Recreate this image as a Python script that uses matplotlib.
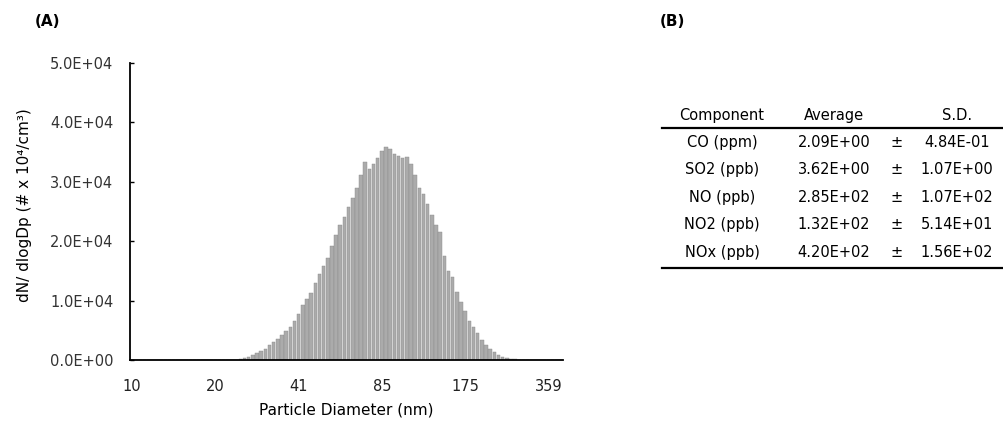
import matplotlib
matplotlib.use('Agg')
import matplotlib.pyplot as plt
from matplotlib.lines import Line2D
from matplotlib.ticker import FixedLocator, FuncFormatter

plt.rcParams['font.family'] = ['DejaVu Sans']

# SMPS size bins (64 channels/decade), value per bin in #/cm3
dndlogdp = [0, 0, 0, 0, 0, 0, 0, 0, 0, 0,
            0, 0, 0, 0, 0, 0, 0, 0, 0, 0,
            0, 0, 0, 0, 0, 0, 100, 300, 500, 800,
            1100, 1500, 1900, 2500, 3000, 3600, 4200, 4800, 5500, 6500,
            7800, 9200, 10200, 11200, 13000, 14500, 15800, 17200, 19200, 21000,
            22700, 24000, 25800, 27200, 29000, 31200, 33400, 32200, 33000, 34000,
            35200, 35800, 35500, 34700, 34300, 34000, 34100, 33000, 31200, 29000,
            28000, 26200, 24400, 22800, 21500, 17500, 15000, 14000, 11500, 9700,
            8200, 6600, 5500, 4500, 3400, 2500, 1900, 1300, 800, 500,
            300, 200, 100, 0, 0, 0, 0, 0, 0, 0,
            0, 0, 0, 0]
tick_bins = [0, 20, 40, 60, 80, 100]
tick_labels = ['10', '20', '41', '85', '175', '359']

components = ['CO (ppm)', 'SO2 (ppb)', 'NO (ppb)', 'NO2 (ppb)', 'NOx (ppb)']
averages = ['2.09E+00', '3.62E+00', '2.85E+02', '1.32E+02', '4.20E+02']
sds = ['4.84E-01', '1.07E+00', '1.07E+02', '5.14E+01', '1.56E+02']

W, H = 1004, 423
fig = plt.figure(figsize=(W / 100, H / 100), dpi=100)

# panel A: size distribution
ax = fig.add_axes([130 / W, 1 - 360 / H, 433 / W, 297 / H])
ax.bar(range(len(dndlogdp)), dndlogdp, width=0.85, color='#ababab',
       edgecolor='#8a8a8a', linewidth=0.3)
ax.set_xlim(-0.5, len(dndlogdp) - 0.5)
ax.set_ylim(0, 50000)
ax.xaxis.set_major_locator(FixedLocator(tick_bins))
ax.set_xticklabels(tick_labels)
ax.yaxis.set_major_locator(FixedLocator([0, 10000, 20000, 30000, 40000, 50000]))
ax.yaxis.set_major_formatter(FuncFormatter(lambda v, p: '%.1E' % v))
for s in ['top', 'right']:
    ax.spines[s].set_visible(False)
for s in ['left', 'bottom']:
    ax.spines[s].set_linewidth(1.3)
ax.tick_params(axis='y', direction='in', length=3, width=1, pad=12,
               labelsize=10.5, labelcolor='#333333')
ax.tick_params(axis='x', length=0, pad=14, labelsize=10.5, labelcolor='#222222')
ax.set_xlabel('Particle Diameter (nm)', fontsize=11, labelpad=6)
fig.text(25 / W, 1 - 205 / H, 'dN/ dlogDp (# x 10\u2074/cm\u00b3)', rotation=90,
         ha='center', va='center', fontsize=11)

fig.text(35 / W, 1 - 22 / H, '(A)', fontsize=11, fontweight='bold', va='center')
fig.text(660 / W, 1 - 22 / H, '(B)', fontsize=11, fontweight='bold', va='center')

# panel B: table of gas concentrations
col_x = [722, 834, 897, 957]
fs = 10.5
head_y = 115
fig.text(col_x[0] / W, 1 - head_y / H, 'Component', ha='center', va='center', fontsize=fs)
fig.text(col_x[1] / W, 1 - head_y / H, 'Average', ha='center', va='center', fontsize=fs)
fig.text(col_x[3] / W, 1 - head_y / H, 'S.D.', ha='center', va='center', fontsize=fs)
row_y0, row_dy = 142, 27.6
for i, (c, a, s) in enumerate(zip(components, averages, sds)):
    y = 1 - (row_y0 + i * row_dy) / H
    fig.text(col_x[0] / W, y, c, ha='center', va='center', fontsize=fs)
    fig.text(col_x[1] / W, y, a, ha='center', va='center', fontsize=fs)
    fig.text(col_x[2] / W, y, '\u00b1', ha='center', va='center', fontsize=fs)
    fig.text(col_x[3] / W, y, s, ha='center', va='center', fontsize=fs)
for yy in [128, 268]:
    fig.add_artist(Line2D([662 / W, 1003 / W], [1 - yy / H, 1 - yy / H],
                          color='black', linewidth=1.6))

fig.savefig('out.png', dpi=100)
